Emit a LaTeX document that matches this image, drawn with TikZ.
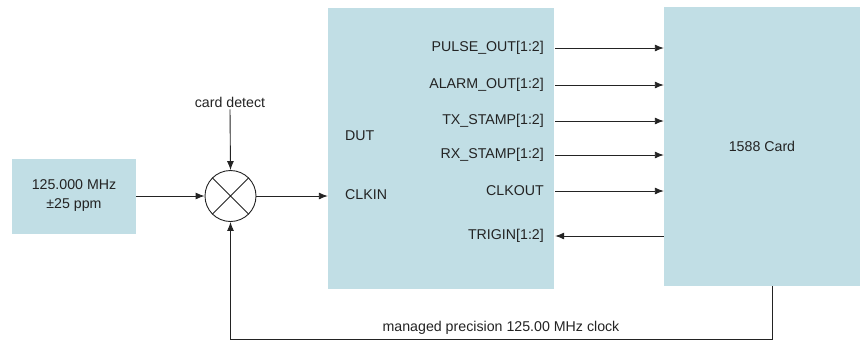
\documentclass[tikz,border=0pt]{standalone}
\usepackage{fontspec}
\setmainfont{Liberation Sans}
\usepackage{tikz}
\usepackage{xcolor}
\usetikzlibrary{shapes, positioning, arrows.meta}

\definecolor{boxblue}{RGB}{193,222,229}
\definecolor{ink}{RGB}{35,35,35}

\tikzset{
    block/.style={rectangle, fill=boxblue, inner sep=0pt},
    port/.style={anchor=east, inner sep=0pt, yshift=2pt},
    sig/.style={ink, line width=0.9pt, -{Latex[length=9pt, width=7pt]}},
}

\begin{document}
\begin{tikzpicture}[x=1pt, y=-1pt, font=\fontsize{14.2}{19}\selectfont, text=ink]
        \useasboundingbox (0, 0) rectangle (860, 341);

        % blocks
        \node[block, minimum width=124pt, minimum height=75pt, align=center] (osc) at (74, 196) {125.000 MHz\\±25 ppm};
        \node[circle, draw=ink, line width=0.9pt, minimum size=51pt, inner sep=0pt] (mix) at (230.5, 196) {};
        \node[inner sep=2pt] (detect) at (230, 102) {card detect};
        \node[block, minimum width=226pt, minimum height=281pt] (dut) at (441, 148.5) {};
        \node[block, minimum width=196pt, minimum height=279pt] (card) at (762, 146.5) {1588 Card};

        \draw[ink, line width=0.9pt] (mix.north west) to (mix.south east)
            (mix.north east) to (mix.south west);

        % DUT pins
        \node[anchor=west, inner sep=0pt] (dutname) at (345, 136) {DUT};
        \node[anchor=west, inner sep=0pt] (clkin) at (345, 195) {CLKIN};
        \node[port] (pulse) at (544, 50) {PULSE\_OUT[1:2]};
        \node[port] (alarm) at (544, 87) {ALARM\_OUT[1:2]};
        \node[port] (txstamp) at (544, 123) {TX\_STAMP[1:2]};
        \node[port] (rxstamp) at (544, 157) {RX\_STAMP[1:2]};
        \node[port] (clkout) at (544, 193) {CLKOUT};
        \node[port] (trigin) at (544, 238) {TRIGIN[1:2]};

        \node[inner sep=0pt] (fbtext) at (501, 328) {managed precision 125.00 MHz clock};

        % connectors
        \draw[sig] (detect.south) to (mix.north);
        \draw[sig] (osc.east) to (mix.west);
        \draw[sig] (mix.east) to (mix -| dut.west);

        \draw[sig] ([xshift=1pt]pulse.east -| dut.east) to (pulse.east -| card.west);
        \draw[sig] ([xshift=1pt]alarm.east -| dut.east) to (alarm.east -| card.west);
        \draw[sig] ([xshift=1pt]txstamp.east -| dut.east) to (txstamp.east -| card.west);
        \draw[sig] ([xshift=1pt]rxstamp.east -| dut.east) to (rxstamp.east -| card.west);
        \draw[sig] ([xshift=1pt]clkout.east -| dut.east) to (clkout.east -| card.west);
        \draw[sig] (trigin.east -| card.west) to ([xshift=1pt]trigin.east -| dut.east);

        \draw[sig] ([xshift=10pt]card.south) |- (230.5, 339) to (mix.south);
\end{tikzpicture}
\end{document}
